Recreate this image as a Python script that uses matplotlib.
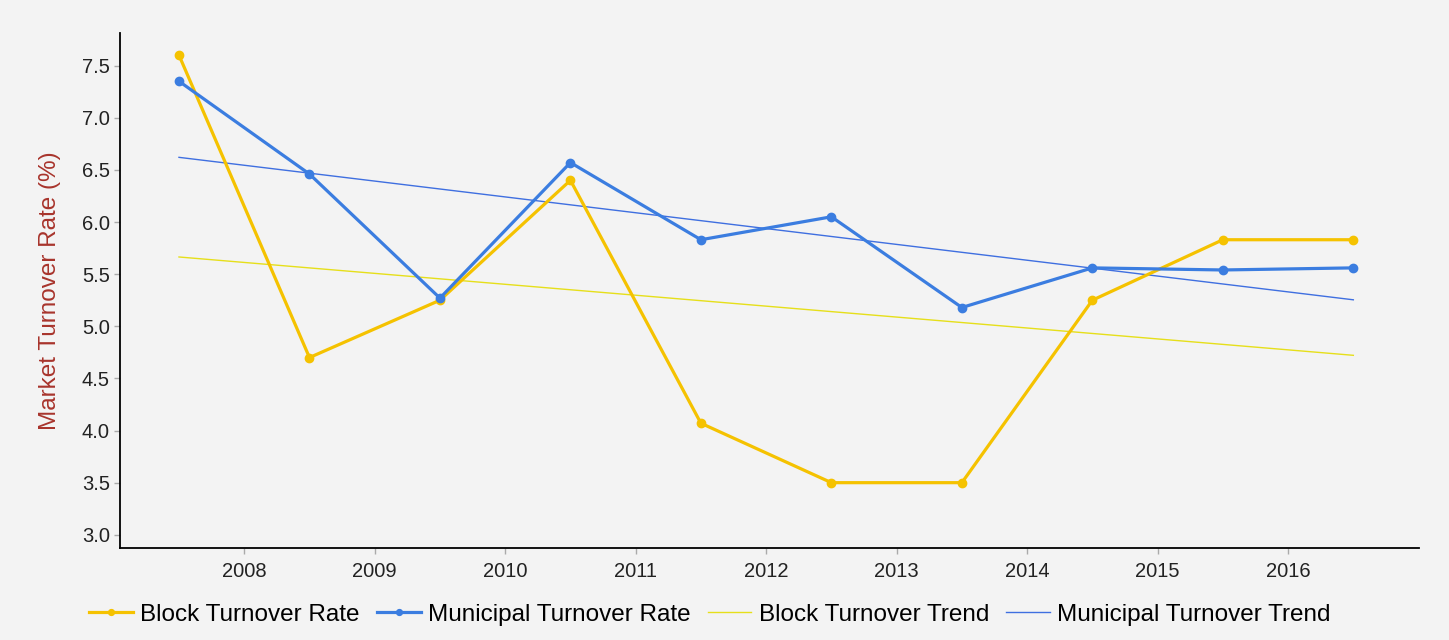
import numpy as np
import matplotlib
matplotlib.use("Agg")
import matplotlib.pyplot as plt

plt.rcParams['font.family'] = ['Liberation Sans', 'DejaVu Sans']

# data
years = [2007, 2008, 2009, 2010, 2011, 2012, 2013, 2014, 2015, 2016]
block_rate = [7.60, 4.70, 5.25, 6.40, 4.07, 3.50, 3.50, 5.25, 5.83, 5.83]
municipal_rate = [7.35, 6.46, 5.27, 6.57, 5.83, 6.05, 5.18, 5.56, 5.54, 5.56]
tick_years = [2008, 2009, 2010, 2011, 2012, 2013, 2014, 2015, 2016]

BG = '#f3f3f3'
YELLOW = '#f5c200'
BLUE = '#3b7de0'
YELLOW_TREND = '#e6df1a'
BLUE_TREND = '#3f6fe0'

x = np.array(years) + 0.5

# least squares trend for each series
idx = np.arange(len(years))
block_fit = np.polyval(np.polyfit(idx, block_rate, 1), idx)
muni_fit = np.polyval(np.polyfit(idx, municipal_rate, 1), idx)

fig = plt.figure(figsize=(14.49, 6.40), dpi=100, facecolor=BG)
ax = fig.add_axes([0.083, 0.144, 0.896, 0.804])
ax.set_facecolor(BG)

ax.plot(x, block_rate, color=YELLOW, lw=2.3, marker='o', ms=6, label='Block Turnover Rate', zorder=3)
ax.plot(x, municipal_rate, color=BLUE, lw=2.3, marker='o', ms=6, label='Municipal Turnover Rate', zorder=4)
ax.plot(x, block_fit, color=YELLOW_TREND, lw=1.0, label='Block Turnover Trend', zorder=2)
ax.plot(x, muni_fit, color=BLUE_TREND, lw=1.0, label='Municipal Turnover Trend', zorder=2)

ax.set_xlim(2007.05, 2017.0)
ax.set_ylim(2.875, 7.81)
ax.set_xticks(tick_years)
ax.set_xticklabels([str(y) for y in tick_years])
ax.set_yticks(np.arange(3.0, 7.51, 0.5))
ax.yaxis.set_major_formatter(matplotlib.ticker.FormatStrFormatter('%.1f'))
ax.tick_params(axis='both', labelsize=14.5, colors='#aaaaaa', labelcolor='#222222', length=4, width=1)
ax.tick_params(axis='x', pad=6)

for s in ['top', 'right']:
    ax.spines[s].set_visible(False)
for s in ['left', 'bottom']:
    ax.spines[s].set_color('black')
    ax.spines[s].set_linewidth(1.3)

ax.set_ylabel('Market Turnover Rate (%)', color='#a8342c', fontsize=17.5, labelpad=15)

fig.legend(loc='lower center', bbox_to_anchor=(0.49, -0.012), ncol=4, frameon=False,
           fontsize=17.5, handlelength=1.8, handletextpad=0.3, columnspacing=0.7, markerscale=0.7)

fig.savefig('out.png', dpi=100, facecolor=BG)
